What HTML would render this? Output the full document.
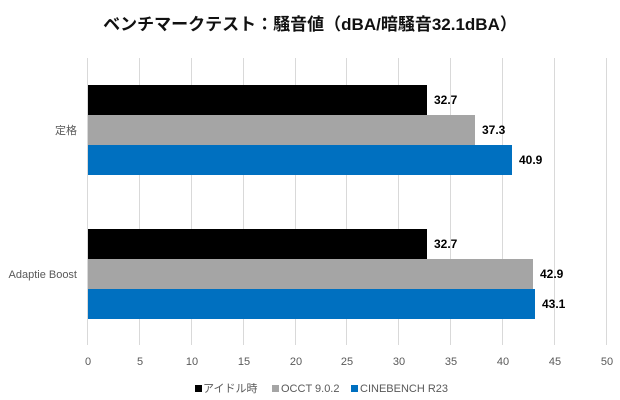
<!DOCTYPE html>
<html><head><meta charset="utf-8"><style>
html,body{margin:0;padding:0;background:#fff;}
body{width:620px;height:400px;position:relative;overflow:hidden;font-family:"Liberation Sans","Noto Sans CJK JP",sans-serif;}
.t{position:absolute;white-space:nowrap;}
</style></head><body>
<div class="t" style="left:0;width:620px;top:10px;text-align:center;font-size:17px;font-weight:bold;color:#111;">ベンチマークテスト：騒音値（dBA/暗騒音32.1dBA）</div>
<svg width="620" height="400" style="position:absolute;left:0;top:0" font-family="Liberation Sans, Noto Sans CJK JP, sans-serif">
<g stroke="#d9d9d9" stroke-width="1">
<line x1="87.5" y1="58" x2="87.5" y2="345"/><line x1="139.5" y1="58" x2="139.5" y2="345"/><line x1="191.5" y1="58" x2="191.5" y2="345"/><line x1="243.5" y1="58" x2="243.5" y2="345"/><line x1="295.5" y1="58" x2="295.5" y2="345"/><line x1="346.5" y1="58" x2="346.5" y2="345"/><line x1="398.5" y1="58" x2="398.5" y2="345"/><line x1="450.5" y1="58" x2="450.5" y2="345"/><line x1="502.5" y1="58" x2="502.5" y2="345"/><line x1="554.5" y1="58" x2="554.5" y2="345"/><line x1="606.5" y1="58" x2="606.5" y2="345"/>
</g>
<rect x="88" y="85" width="339" height="30" fill="#000"/>
<rect x="88" y="115" width="387" height="30" fill="#a5a5a5"/>
<rect x="88" y="145" width="424" height="30" fill="#0070c0"/>
<rect x="88" y="229" width="339" height="30" fill="#000"/>
<rect x="88" y="259" width="445" height="30" fill="#a5a5a5"/>
<rect x="88" y="289" width="447" height="30" fill="#0070c0"/>
<g font-size="12" font-weight="bold" fill="#000">
<text x="434" y="104">32.7</text><text x="482" y="134">37.3</text><text x="519" y="164">40.9</text>
<text x="434" y="248">32.7</text><text x="540" y="278">42.9</text><text x="542" y="308">43.1</text>
</g>
<g font-size="11" fill="#595959" text-anchor="end">
<text x="77" y="134">定格</text><text x="77" y="278">Adaptie Boost</text>
</g>
<g font-size="11" fill="#595959" text-anchor="middle">
<text x="88" y="365">0</text><text x="140" y="365">5</text><text x="192" y="365">10</text><text x="244" y="365">15</text><text x="296" y="365">20</text><text x="347" y="365">25</text><text x="399" y="365">30</text><text x="451" y="365">35</text><text x="503" y="365">40</text><text x="555" y="365">45</text><text x="607" y="365">50</text>
</g>
<g font-size="11" fill="#595959">
<rect x="195" y="385" width="7" height="7" fill="#000"/><text x="203" y="392">アイドル時</text>
<rect x="272" y="385" width="7" height="7" fill="#a5a5a5"/><text x="281" y="392">OCCT 9.0.2</text>
<rect x="351" y="385" width="7" height="7" fill="#0070c0"/><text x="360" y="392">CINEBENCH R23</text>
</g>
</svg>
</body></html>
